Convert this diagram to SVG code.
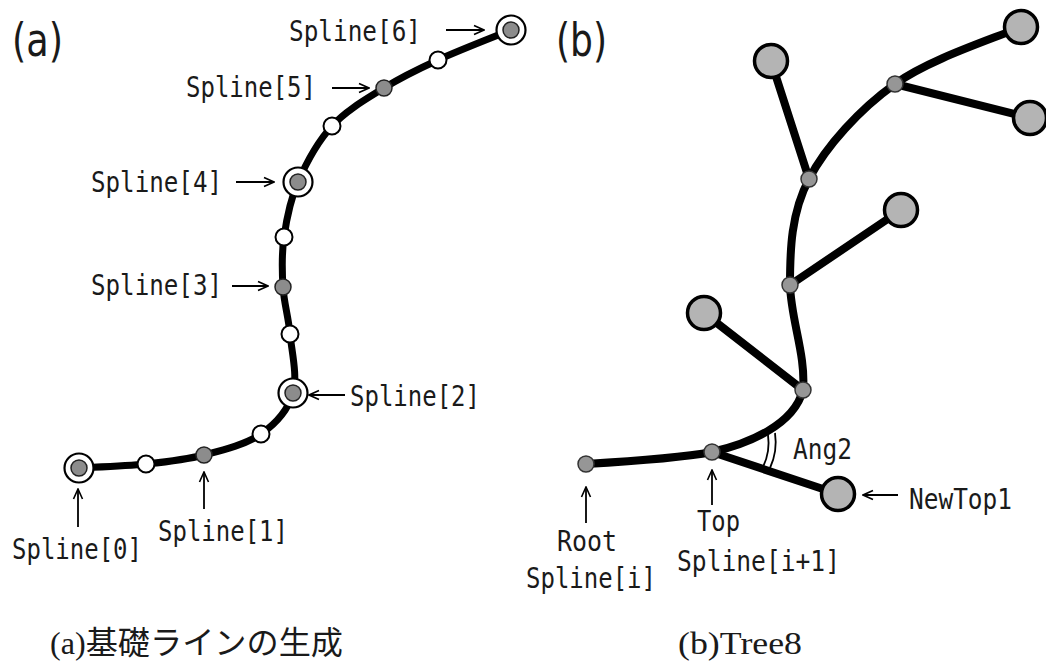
<svg xmlns="http://www.w3.org/2000/svg" width="1046" height="662" viewBox="0 0 1046 662">
<defs>
<marker id="ah" viewBox="0 0 12 12" refX="11" refY="6" markerWidth="12" markerHeight="12" markerUnits="userSpaceOnUse" orient="auto">
<path d="M1,1.5 L11,6 L1,10.5" fill="none" stroke="#000" stroke-width="1.6"/>
</marker>
</defs>
<style>
.lbl{font-family:"DejaVu Sans Mono","Liberation Mono",monospace;font-size:28px;fill:#1a1a1a}
.big{font-family:"DejaVu Sans","Liberation Sans",sans-serif;font-size:46px;fill:#1a1a1a}
.cap{font-family:"Liberation Serif","Noto Sans CJK JP",serif;font-size:32px;fill:#1a1a1a}
.arr{stroke:#000;stroke-width:1.8;fill:none;marker-end:url(#ah)}
.main{stroke:#000;stroke-width:7;fill:none;stroke-linecap:round}
.br{stroke:#000;stroke-width:8;fill:none;stroke-linecap:round}
.wn{fill:#fff;stroke:#000;stroke-width:2}
.gn{fill:#8c8c8c;stroke:#222;stroke-width:1.5}
.ring{fill:#fff;stroke:#000;stroke-width:2.2}
.leaf{fill:#b4b4b4;stroke:#000;stroke-width:3.5}
.sn{fill:#969696;stroke:#333;stroke-width:1.5}
</style>
<rect width="1046" height="662" fill="#fff"/>

<g id="connectors">
<path class="main" d="M78,468 C89.3,467.3 125,466.2 146,464 C167,461.8 184.8,460 204,455 C223.2,450 246.2,444.3 261,434 C275.8,423.7 288.2,409.7 293,393 C297.8,376.3 291.7,351.7 290,334 C288.3,316.3 284,303.2 283,287 C282,270.8 281.5,254.5 284,237 C286.5,219.5 290,200.5 298,182 C306,163.5 317.7,141.7 332,126 C346.3,110.3 366.3,99 384,88 C401.7,77 416.8,69.7 438,60 C459.2,50.3 498.8,35 511,30"/>
<path class="br" d="M586,464 C620,462 680,458 712,452 C748,444 794,425 803,390 C806,355 791,320 790,285 C790,250 791,213 809,179 C826,146 860,109 895,84 C930,59 990,40 1021,27"/>
<line class="br" x1="895" y1="84" x2="1030" y2="118"/>
<line class="br" x1="809" y1="179" x2="771" y2="61"/>
<line class="br" x1="790" y1="285" x2="901" y2="210"/>
<line class="br" x1="803" y1="390" x2="704" y2="313"/>
<line class="br" x1="712" y1="452" x2="838" y2="494"/>
<path d="M768,435 A55,55 0 0 1 763,467" fill="none" stroke="#000" stroke-width="1.8"/>
<path d="M775,433 A62,62 0 0 1 770,468" fill="none" stroke="#000" stroke-width="1.8"/>
<line class="arr" x1="446" y1="30" x2="484" y2="30"/>
<line class="arr" x1="332" y1="88" x2="369" y2="88"/>
<line class="arr" x1="236" y1="182" x2="274" y2="182"/>
<line class="arr" x1="232" y1="286" x2="268" y2="286"/>
<line class="arr" x1="345" y1="395" x2="309" y2="395"/>
<line class="arr" x1="78" y1="527" x2="78" y2="489"/>
<line class="arr" x1="204" y1="509" x2="204" y2="472"/>
<line class="arr" x1="586" y1="523" x2="586" y2="487"/>
<line class="arr" x1="712" y1="505" x2="712" y2="470"/>
<line class="arr" x1="898" y1="495" x2="863" y2="495"/>
</g>

<g id="spline0"><circle class="ring" cx="79" cy="468" r="14.5"/><circle class="gn" cx="79" cy="468" r="8"/></g>
<g id="mid01"><circle class="wn" cx="146" cy="464" r="8.5"/></g>
<g id="spline1"><circle class="gn" cx="204" cy="455" r="8"/></g>
<g id="mid12"><circle class="wn" cx="261" cy="434" r="8.5"/></g>
<g id="spline2"><circle class="ring" cx="293" cy="393" r="14.5"/><circle class="gn" cx="293" cy="393" r="8"/></g>
<g id="mid23"><circle class="wn" cx="290" cy="334" r="8.5"/></g>
<g id="spline3"><circle class="gn" cx="283" cy="287" r="8"/></g>
<g id="mid34"><circle class="wn" cx="284" cy="237" r="8.5"/></g>
<g id="spline4"><circle class="ring" cx="298" cy="182" r="14.5"/><circle class="gn" cx="298" cy="182" r="8"/></g>
<g id="mid45"><circle class="wn" cx="332" cy="126" r="8.5"/></g>
<g id="spline5"><circle class="gn" cx="384" cy="88" r="8"/></g>
<g id="mid56"><circle class="wn" cx="438" cy="60" r="8.5"/></g>
<g id="spline6"><circle class="ring" cx="511" cy="30" r="14.5"/><circle class="gn" cx="511" cy="30" r="8"/></g>

<g id="root"><circle class="sn" cx="586" cy="464" r="8"/></g>
<g id="top"><circle class="sn" cx="712" cy="452" r="8"/></g>
<g id="b1"><circle class="sn" cx="803" cy="390" r="8"/></g>
<g id="b2"><circle class="sn" cx="790" cy="285" r="8"/></g>
<g id="b3"><circle class="sn" cx="809" cy="179" r="8"/></g>
<g id="b4"><circle class="sn" cx="895" cy="84" r="8"/></g>
<g id="leaf1"><circle class="leaf" cx="1021" cy="27" r="16.5"/></g>
<g id="leaf2"><circle class="leaf" cx="1030" cy="118" r="16.5"/></g>
<g id="leaf3"><circle class="leaf" cx="771" cy="61" r="16.5"/></g>
<g id="leaf4"><circle class="leaf" cx="901" cy="210" r="16.5"/></g>
<g id="leaf5"><circle class="leaf" cx="704" cy="313" r="16.5"/></g>
<g id="newtop1"><circle class="leaf" cx="838" cy="494" r="16.5"/></g>

<g id="labels">
<text class="big" x="12" y="56" textLength="51" lengthAdjust="spacingAndGlyphs">(a)</text>
<text class="big" x="556" y="56" textLength="51" lengthAdjust="spacingAndGlyphs">(b)</text>
<text class="lbl" x="289" y="41" textLength="132" lengthAdjust="spacingAndGlyphs">Spline[6]</text>
<text class="lbl" x="186" y="97" textLength="130" lengthAdjust="spacingAndGlyphs">Spline[5]</text>
<text class="lbl" x="91" y="192" textLength="131" lengthAdjust="spacingAndGlyphs">Spline[4]</text>
<text class="lbl" x="91" y="295" textLength="131" lengthAdjust="spacingAndGlyphs">Spline[3]</text>
<text class="lbl" x="350" y="406" textLength="130" lengthAdjust="spacingAndGlyphs">Spline[2]</text>
<text class="lbl" x="12" y="559" textLength="130" lengthAdjust="spacingAndGlyphs">Spline[0]</text>
<text class="lbl" x="158" y="541" textLength="130" lengthAdjust="spacingAndGlyphs">Spline[1]</text>
<text class="lbl" x="793" y="459" textLength="59" lengthAdjust="spacingAndGlyphs">Ang2</text>
<text class="lbl" x="909" y="509" textLength="103" lengthAdjust="spacingAndGlyphs">NewTop1</text>
<text class="lbl" x="557" y="551" textLength="60" lengthAdjust="spacingAndGlyphs">Root</text>
<text class="lbl" x="526" y="588" textLength="130" lengthAdjust="spacingAndGlyphs">Spline[i]</text>
<text class="lbl" x="697" y="531" textLength="43" lengthAdjust="spacingAndGlyphs">Top</text>
<text class="lbl" x="677" y="571" textLength="163" lengthAdjust="spacingAndGlyphs">Spline[i+1]</text>
<text class="cap" x="50" y="654" textLength="293" lengthAdjust="spacingAndGlyphs">(a)基礎ラインの生成</text>
<text class="cap" x="678" y="654" textLength="124" lengthAdjust="spacingAndGlyphs">(b)Tree8</text>
</g>
</svg>
